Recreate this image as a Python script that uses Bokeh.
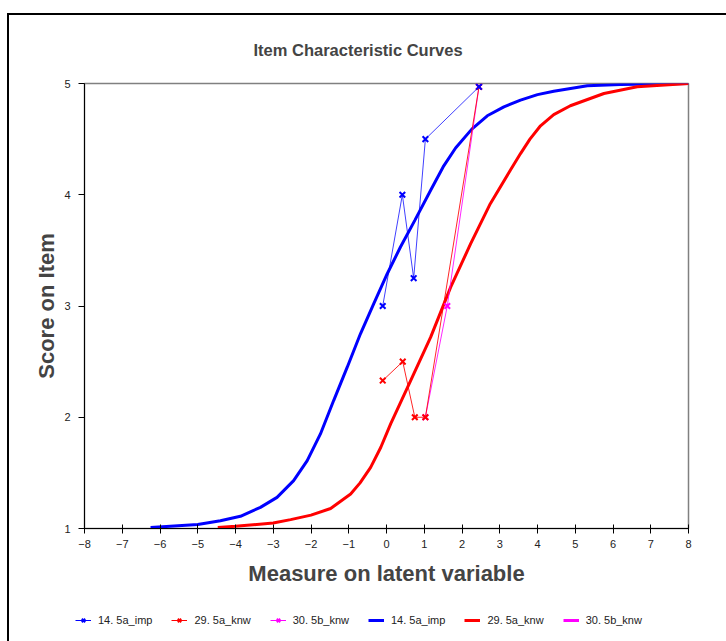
from bokeh.plotting import figure
from bokeh.layouts import column
from bokeh.models import Range1d, FixedTicker, Legend, LegendItem, InlineStyleSheet
from bokeh.embed import file_html
from bokeh.resources import INLINE

# ---- data ----
x_ticks = list(range(-8, 9))
y_ticks = [1, 2, 3, 4, 5]

# model curves
icc_imp_x = [-6.25, -5.0, -4.4, -3.87, -3.34, -2.90, -2.46, -2.10, -1.75, -1.40, -1.04, -0.69,
             -0.34, 0.02, 0.37, 0.75, 1.17, 1.50, 1.83, 2.26, 2.67, 3.11, 3.55, 4.0, 4.43, 5.32, 6.2, 8.0]
icc_imp_y = [1.01, 1.036, 1.07, 1.11, 1.19, 1.28, 1.43, 1.61, 1.85, 2.15, 2.45, 2.75,
             3.02, 3.29, 3.53, 3.77, 4.04, 4.25, 4.42, 4.59, 4.71, 4.79, 4.85, 4.90, 4.93, 4.98, 4.99, 5.0]

icc_29_x = [-4.47, -4.0, -3.0, -2.54, -2.0, -1.48, -0.95, -0.70, -0.42, -0.15, 0.11, 0.64, 1.17, 1.70,
            2.23, 2.75, 3.28, 3.55, 3.80, 4.08, 4.43, 4.87, 5.76, 6.64, 8.0]
icc_29_y = [1.01, 1.02, 1.05, 1.08, 1.12, 1.18, 1.31, 1.41, 1.55, 1.73, 1.94, 2.33, 2.72, 3.17,
            3.56, 3.92, 4.22, 4.37, 4.50, 4.62, 4.72, 4.80, 4.91, 4.97, 5.0]

# observed points
obs_imp_x = [-0.1, 0.42, 0.72, 1.03, 2.45]
obs_imp_y = [3.0, 4.0, 3.25, 4.5, 4.97]

obs_29_x = [-0.1, 0.43, 0.75, 1.03, 2.45]
obs_29_y = [2.33, 2.5, 2.0, 2.0, 4.97]

obs_30_x = [1.03, 1.61, 2.45]
obs_30_y = [2.0, 3.0, 4.97]

labels = ["14. 5a_imp", "29. 5a_knw", "30. 5b_knw"]
BLUE, RED, MAG = "#0000FF", "#FF0000", "#FF00FF"

FONT = "Liberation Sans"

p = figure(width=726, height=600, output_backend="svg", toolbar_location=None,
           x_range=Range1d(-8, 8), y_range=Range1d(1, 5),
           min_border_left=84, min_border_right=38, min_border_top=83, min_border_bottom=72)

p.background_fill_color = "white"
p.border_fill_color = "white"
p.outline_line_color = "#808080"
p.outline_line_width = 1.5
p.xgrid.visible = False
p.ygrid.visible = False

# title
p.title.text = "Item Characteristic Curves"
p.title.align = "left"
p.title.offset = 169
p.title.text_font = FONT
p.title.text_font_size = "16.5px"
p.title.text_font_style = "bold"
p.title.standoff = 49

# axes
xa = p.xaxis[0]
xa.ticker = FixedTicker(ticks=x_ticks)
xa.minor_tick_line_color = None
xa.major_tick_in = 4
xa.major_tick_out = 5
xa.major_label_standoff = 6
xa.axis_label = "Measure on latent variable"
xa.axis_label_text_font = FONT
xa.axis_label_text_font_size = "22px"
xa.axis_label_text_font_style = "bold"
xa.axis_label_standoff = 10
xa.major_label_text_font = FONT
xa.major_label_text_font_size = "11px"
xa.major_label_text_color = "#222222"
xa.axis_line_color = "black"
xa.major_tick_line_color = "black"

ya = p.yaxis[0]
ya.ticker = FixedTicker(ticks=y_ticks)
ya.minor_tick_line_color = None
ya.major_tick_in = 0
ya.major_tick_out = 6
ya.major_label_standoff = 8
ya.axis_label = "Score on Item"
ya.axis_label_text_font = FONT
ya.axis_label_text_font_size = "22px"
ya.axis_label_text_font_style = "bold"
ya.axis_label_standoff = 2
ya.major_label_text_font = FONT
ya.major_label_text_font_size = "11px"
ya.major_label_text_color = "#222222"
ya.axis_line_color = "black"
ya.major_tick_line_color = "black"

# model curves
p.line(icc_imp_x, icc_imp_y, line_color=BLUE, line_width=3)
p.line(icc_29_x, icc_29_y, line_color=RED, line_width=3)

# observed lines
p.line(obs_30_x, obs_30_y, line_color=MAG, line_width=1, line_alpha=0.85)
p.line(obs_29_x, obs_29_y, line_color=RED, line_width=1, line_alpha=0.85)
p.line(obs_imp_x, obs_imp_y, line_color=BLUE, line_width=1, line_alpha=0.75)

# markers
p.scatter(obs_30_x, obs_30_y, marker="x", size=8, line_color=MAG, line_width=2)
p.scatter(obs_29_x, obs_29_y, marker="x", size=8, line_color=RED, line_width=2)
p.scatter(obs_imp_x, obs_imp_y, marker="x", size=8, line_color=BLUE, line_width=2)

# ---- legend strip (separate small figure below the chart; its view shows no data) ----
lg = figure(width=726, height=41, output_backend="svg", toolbar_location=None,
            x_range=Range1d(-8, 8), y_range=Range1d(10, 11),
            x_axis_location=None, y_axis_location=None,
            min_border_left=0, min_border_right=0, min_border_top=0, min_border_bottom=0)
lg.outline_line_color = None
lg.xgrid.visible = False
lg.ygrid.visible = False
lg.background_fill_color = "white"
lg.border_fill_color = "white"

legend_x = -9
if "frame_align" in lg.properties():
    lg.frame_align = False
    legend_x = 75

series = [(labels[0], BLUE, obs_imp_x, obs_imp_y, icc_imp_x, icc_imp_y),
          (labels[1], RED, obs_29_x, obs_29_y, icc_29_x, icc_29_y),
          (labels[2], MAG, obs_30_x, obs_30_y, obs_30_x, obs_30_y)]
items = []
for lab, c, ox, oy, _, _ in series:
    r_line = lg.line(ox, oy, line_color=c, line_width=1)
    r_mark = lg.scatter(ox, oy, marker="x", size=8, line_color=c, line_width=2)
    items.append(LegendItem(label=lab, renderers=[r_line, r_mark]))
for lab, c, _, _, ix, iy in series:
    r_line = lg.line(ix, iy, line_color=c, line_width=3)
    items.append(LegendItem(label=lab, renderers=[r_line]))

legend = Legend(items=items, orientation="horizontal", location=(legend_x, 15))
legend.padding = 0
legend.margin = 0
legend.spacing = 19
legend.glyph_width = 16
legend.glyph_height = 12
legend.label_height = 12
legend.label_standoff = 7
legend.label_text_font = FONT
legend.label_text_font_size = "11px"
legend.label_text_color = "#222222"
legend.border_line_color = None
legend.background_fill_alpha = 0
lg.add_layout(legend, "center")

p.stylesheets = [InlineStyleSheet(css="""
:host::after { content: ""; position: absolute; left: 7px; top: 13px; right: 0; bottom: 0;
  border-left: 2px solid #000; border-top: 2px solid #000; pointer-events: none; }
""")]
lg.stylesheets = [InlineStyleSheet(css="""
:host::after { content: ""; position: absolute; left: 7px; top: 0; right: 0; bottom: 0;
  border-left: 2px solid #000; pointer-events: none; }
""")]

layout = column(p, lg, spacing=0)
open("out.html", "w").write(file_html(layout, INLINE))
